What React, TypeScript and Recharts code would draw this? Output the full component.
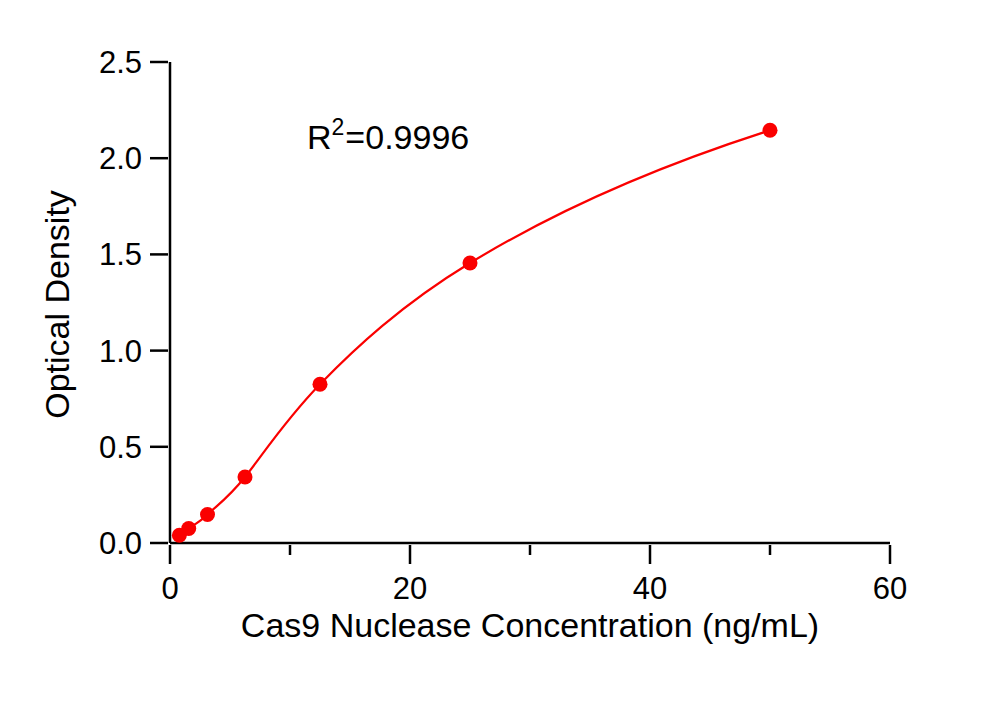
import { ComposedChart, Line, XAxis, YAxis, Label } from 'recharts';

// standard curve: concentration (ng/mL) vs OD
const concentrations = [0.78, 1.56, 3.125, 6.25, 12.5, 25, 50];
const opticalDensity = [0.04, 0.075, 0.148, 0.343, 0.825, 1.455, 2.145];

const xTicks = [0, 10, 20, 30, 40, 50, 60];
const yTicks = [0, 0.5, 1.0, 1.5, 2.0, 2.5];
const rSquared = '0.9996';

const FONT = '"Liberation Sans", Arial, sans-serif';
const RED = '#fa0000';
const MARGIN = { top: 62, right: 110, bottom: 75, left: 70 };
const Y_AXIS_W = 100;
// pixel x of concentration 0
const ORIGIN_X = MARGIN.left + Y_AXIS_W;

const data = concentrations.map((c, i) => ({ conc: c, od: opticalDensity[i] }));

// Hermite curve through the points, parameterised on log(concentration)
// so the doubling dilution series bends smoothly like a fitted sigmoid.
function logCurve(context: any) {
  let pts: number[][] = [];
  return {
    areaStart() {},
    areaEnd() {},
    lineStart() {
      pts = [];
    },
    point(x: number, y: number) {
      pts.push([+x, +y]);
    },
    lineEnd() {
      const n = pts.length;
      if (!n) return;
      context.moveTo(pts[0][0], pts[0][1]);
      if (n < 3) {
        for (let i = 1; i < n; i++) context.lineTo(pts[i][0], pts[i][1]);
        return;
      }
      const lx = pts.map((p) => Math.log(Math.max(p[0] - ORIGIN_X, 1e-6)));
      const t = pts.map((p, i) => {
        const a = Math.max(i - 1, 0);
        const b = Math.min(i + 1, n - 1);
        const du = (lx[b] - lx[a]) / (b - a);
        return [(p[0] - ORIGIN_X) * du, (pts[b][1] - pts[a][1]) / (b - a)];
      });
      for (let i = 0; i < n - 1; i++) {
        context.bezierCurveTo(
          pts[i][0] + t[i][0] / 3,
          pts[i][1] + t[i][1] / 3,
          pts[i + 1][0] - t[i + 1][0] / 3,
          pts[i + 1][1] - t[i + 1][1] / 3,
          pts[i + 1][0],
          pts[i + 1][1]
        );
      }
    },
  };
}

function XTick(props: any) {
  const { x, y, payload } = props;
  const major = payload.value % 20 === 0;
  return (
    <g>
      <line x1={x} y1={y} x2={x} y2={y + (major ? 19 : 10)} stroke="#000" strokeWidth={2.5} />
      {major && (
        <text x={x} y={y + 54} textAnchor="middle" fontSize={31} fontFamily={FONT} fill="#000">
          {payload.value}
        </text>
      )}
    </g>
  );
}

function YTick(props: any) {
  const { x, y, payload } = props;
  return (
    <g>
      <line x1={x} y1={y} x2={x - 18} y2={y} stroke="#000" strokeWidth={2.5} />
      <text x={x - 26} y={y + 11} textAnchor="end" fontSize={31} fontFamily={FONT} fill="#000">
        {payload.value.toFixed(1)}
      </text>
    </g>
  );
}

export default function App() {
  return (
    <div style={{ position: 'absolute', left: 0, top: 0, background: '#fff' }}>
      <ComposedChart width={1000} height={718} data={data} margin={MARGIN}>
        <XAxis
          type="number"
          dataKey="conc"
          domain={[0, 60]}
          ticks={xTicks}
          interval={0}
          tickSize={0}
          tickLine={false}
          tick={<XTick />}
          axisLine={{ stroke: '#000', strokeWidth: 2.5 }}
          height={100}
        >
          <Label
            content={(p: any) => {
              const vb = p.viewBox;
              return (
                <text
                  x={vb.x + vb.width / 2}
                  y={vb.y + 94}
                  textAnchor="middle"
                  fontSize={34}
                  fontFamily={FONT}
                  fill="#000"
                >
                  Cas9 Nuclease Concentration (ng/mL)
                </text>
              );
            }}
          />
        </XAxis>
        <YAxis
          type="number"
          domain={[0, 2.5]}
          ticks={yTicks}
          interval={0}
          tickSize={0}
          tickLine={false}
          tick={<YTick />}
          axisLine={{ stroke: '#000', strokeWidth: 2.5 }}
          width={Y_AXIS_W}
        >
          <Label
            content={(p: any) => {
              const vb = p.viewBox;
              const cy = vb.y + vb.height / 2 + 2;
              return (
                <text
                  x={57}
                  y={cy}
                  transform={`rotate(-90, 57, ${cy})`}
                  textAnchor="middle"
                  dominantBaseline="central"
                  fontSize={34}
                  fontFamily={FONT}
                  fill="#000"
                >
                  Optical Density
                </text>
              );
            }}
          />
        </YAxis>
        <Line
          dataKey="od"
          type={logCurve as any}
          stroke={RED}
          strokeWidth={2.2}
          dot={{ r: 7.5, fill: RED, stroke: RED, strokeWidth: 0 }}
          activeDot={false}
          isAnimationActive={false}
        />
        <text x={307} y={149} fontSize={34} fontFamily={FONT} fill="#000">
          R
          <tspan fontSize={23} dy={-14}>2</tspan>
          <tspan dy={14} dx={1}>={rSquared}</tspan>
        </text>
      </ComposedChart>
    </div>
  );
}
